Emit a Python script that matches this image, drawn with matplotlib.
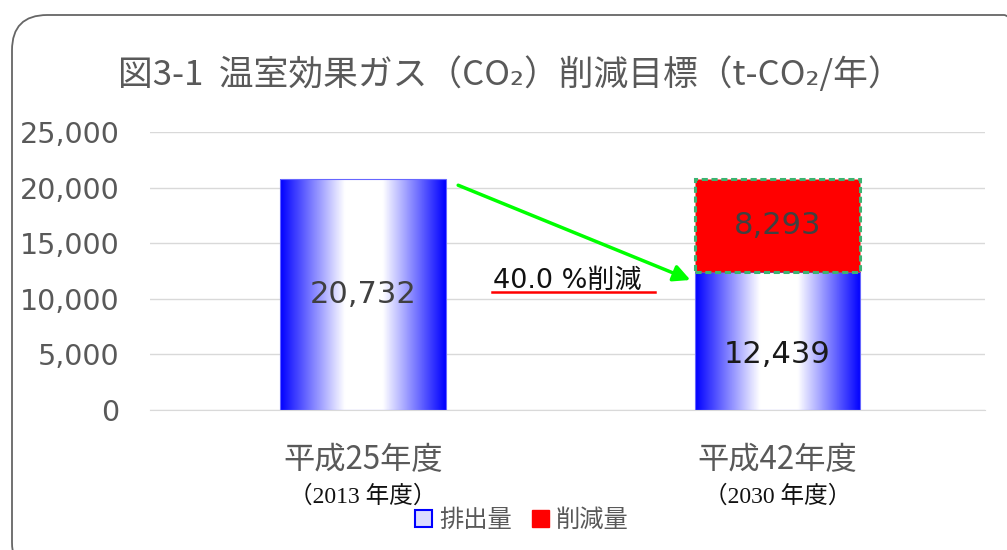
import matplotlib.pyplot as plt
import numpy as np
from matplotlib.patches import FancyBboxPatch, Patch
from matplotlib.colors import LinearSegmentedColormap

# data
categories = ["平成25年度", "平成42年度"]
sub_labels = ["（2013 年度）", "（2030 年度）"]
emission = [20732, 12439]
reduction = [0, 8293]
reduction_label = "40.0 %削減"
title = "図3-1  温室効果ガス（CO₂）削減目標（t-CO₂/年）"
yticks = [0, 5000, 10000, 15000, 20000, 25000]

cjk = ["Noto Sans CJK JP", "DejaVu Sans"]
plt.rcParams["font.family"] = ["DejaVu Sans", "Noto Sans CJK JP"]

fig = plt.figure(figsize=(10.07, 5.5), dpi=100)
ax = fig.add_axes([0.149, 0.2545, 0.829, 0.5055])

# rounded chart border
border = FancyBboxPatch((12 / 1007, -0.05), 1.02, 1 - 15 / 550 + 0.05,
                        boxstyle="round,pad=0,rounding_size=0.035",
                        transform=fig.transFigure, fill=False,
                        edgecolor="#666666", linewidth=1.3, zorder=0,
                        mutation_aspect=1007 / 550)
fig.patches.append(border)

x = np.arange(len(categories))
width = 0.4

# blue-white-blue gradient for emission bars
cmap = LinearSegmentedColormap.from_list(
    "bw", [(0, "#0000ff"), (0.39, "#ffffff"), (0.62, "#ffffff"), (1, "#0000ff")])
grad = np.linspace(0, 1, 256).reshape(1, -1)

bars = ax.bar(x, emission, width, color="none", edgecolor="#6666ff", linewidth=0.8, zorder=3)
for b in bars:
    im = ax.imshow(grad, cmap=cmap, aspect="auto", zorder=2,
                   extent=[b.get_x(), b.get_x() + b.get_width(), 0, b.get_height()])
    im.set_clip_path(b)

red = ax.bar(x[1], reduction[1], width, bottom=emission[1], color="#ff0000",
             edgecolor="#3cb371", linewidth=2.2, linestyle=(0, (2, 1.2)), zorder=3)

# value labels
ax.text(x[0], emission[0] / 2, f"{emission[0]:,}", ha="center", va="center",
        fontsize=22, color="#404040", zorder=5)
ax.text(x[1], emission[1] / 2 - 1200, f"{emission[1]:,}", ha="center", va="center",
        fontsize=22, color="#1a1a1a", zorder=5)
ax.text(x[1], emission[1] + reduction[1] / 2, f"{reduction[1]:,}", ha="center", va="center",
        fontsize=22, color="#404040", zorder=5)

# arrow and reduction label
total = emission[1] + reduction[1]
ax.annotate("", xy=(x[1] - width / 2 - 0.01, emission[1] * 0.94),
            xytext=(x[0] + width / 2 + 0.03, total * 0.975),
            arrowprops=dict(arrowstyle="-|>", color="#00ff00", lw=2.5,
                            mutation_scale=25, shrinkA=0, shrinkB=0), zorder=6)
ax.text(0.314, 11000, reduction_label, ha="left", va="baseline", fontsize=19.5,
        color="#111111", family=["DejaVu Sans", "Noto Sans CJK JP"], zorder=6)
ax.plot([0.311, 0.704], [10600, 10600], color="#ff0000", lw=1.8, zorder=6)

# axes styling
ax.set_xlim(-0.513, 1.5)
ax.set_ylim(0, 25000)
ax.set_yticks(yticks)
ax.set_yticklabels([f"{v:,}" for v in yticks])
ax.tick_params(axis="y", length=0, labelsize=20.5, labelcolor="#595959", pad=22)
ax.set_xticks([])
ax.yaxis.grid(True, color="#d9d9d9", lw=1)
ax.set_axisbelow(True)
for s in ["top", "right", "left"]:
    ax.spines[s].set_visible(False)
ax.spines["bottom"].set_color("#d9d9d9")

# category labels
for xi, cat, sub in zip(x, categories, sub_labels):
    ax.annotate(cat, (xi, -0.18), xycoords=("data", "axes fraction"), ha="center",
                va="center", fontsize=22.5, color="#595959", family=cjk)
    ax.annotate(sub, (xi, -0.31), xycoords=("data", "axes fraction"), ha="center",
                va="center", fontsize=17, color="#111111",
                family=["Liberation Serif", "Noto Sans CJK JP"])

fig.text(510 / 1007, 1 - 75 / 550, title, ha="center", va="center",
         fontsize=25, color="#595959", family=cjk)

handles = [Patch(facecolor="#dcdcff", edgecolor="#0000ff", lw=1.5),
           Patch(facecolor="#ff0000", edgecolor="#ff0000")]
fig.legend(handles, ["排出量", "削減量"], loc="center", ncol=2,
           bbox_to_anchor=(522 / 1007, 1 - 520 / 550), frameon=False,
           prop={"family": cjk, "size": 17.5}, labelcolor="#595959",
           handlelength=0.7, handleheight=0.7, handletextpad=0.3, columnspacing=0.8)

fig.savefig("out.png", dpi=100)
